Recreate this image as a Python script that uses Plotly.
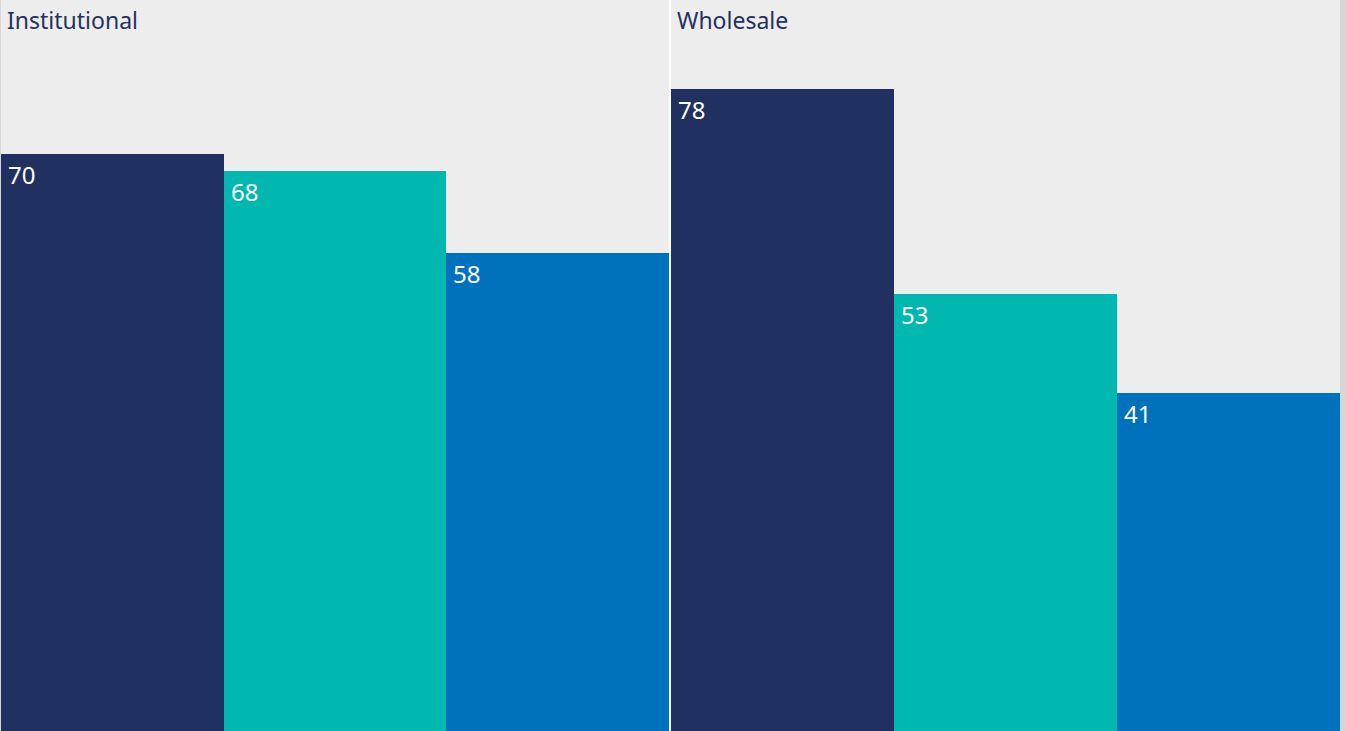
import plotly.graph_objects as go
from plotly.subplots import make_subplots

panels = ["Institutional", "Wholesale"]
categories = ["A", "B", "C"]
institutional_values = [70, 68, 58]
wholesale_values = [78, 53, 41]
bar_colors = ["#203161", "#00B8B0", "#0071BC"]

series = [institutional_values, wholesale_values]

fig = make_subplots(rows=1, cols=2, horizontal_spacing=0)

for i, vals in enumerate(series):
    col = i + 1
    fig.add_trace(go.Bar(x=categories, y=vals, marker=dict(color=bar_colors, line=dict(width=0)),
                         showlegend=False, hoverinfo="y"), row=1, col=col)
    xref = "x" if col == 1 else "x2"
    yref = "y" if col == 1 else "y2"
    for j, v in enumerate(vals):
        fig.add_annotation(x=j - 0.5, y=v, xref=xref, yref=yref, text=str(v), showarrow=False,
                           xanchor="left", yanchor="top", xshift=5, yshift=-2,
                           font=dict(family="Noto Sans", size=24, color="white"))
    fig.add_annotation(x=0, y=1, xref=f"{xref} domain", yref=f"{yref} domain", text=panels[i],
                       showarrow=False, xanchor="left", yanchor="top", xshift=4, yshift=-2,
                       font=dict(family="Noto Sans", size=23, color="#23325F"))

W = 1346
fig.update_layout(
    width=W, height=731, margin=dict(l=0, r=0, t=0, b=0),
    paper_bgcolor="white", plot_bgcolor="#EDEDED", bargap=0,
    xaxis=dict(domain=[1 / W, 669 / W], visible=False, range=[-0.5, 2.5]),
    xaxis2=dict(domain=[671 / W, 1340 / W], visible=False, range=[-0.5, 2.5]),
    yaxis=dict(range=[0, 88.75], visible=False),
    yaxis2=dict(range=[0, 88.75], visible=False),
)
fig.add_shape(type="rect", xref="paper", yref="paper", x0=0, x1=1 / W, y0=0, y1=1,
              fillcolor="#D6D6D6", line=dict(width=0), layer="below")
fig.add_shape(type="rect", xref="paper", yref="paper", x0=1340 / W, x1=1, y0=0, y1=1,
              fillcolor="#D6D6D6", line=dict(width=0), layer="below")

fig.write_html("out.html", config={"displayModeBar": False},
               post_script="document.body.style.margin='0';document.body.style.overflow='hidden';")
